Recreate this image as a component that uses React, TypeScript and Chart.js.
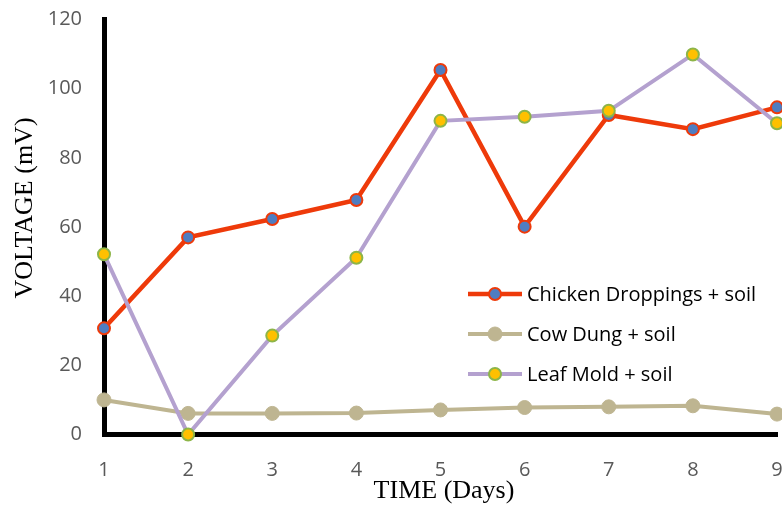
import { useEffect, useRef } from 'react';
import { Chart, registerables } from 'chart.js';

Chart.register(...registerables);

const days = ['1', '2', '3', '4', '5', '6', '7', '8', '9'];
const chickenDroppings = [30.7, 57.0, 62.3, 67.8, 105.4, 60.1, 92.4, 88.3, 94.6];
const cowDung = [10.0, 6.1, 6.1, 6.2, 7.1, 7.8, 8.0, 8.3, 5.9];
const leafMold = [52.1, 0, 28.6, 51.1, 90.7, 91.9, 93.6, 109.9, 90.0];
const seriesNames = ['Chicken Droppings + soil', 'Cow Dung + soil', 'Leaf Mold + soil'];
const yMin = 0;
const yMax = 120;
const yStep = 20;
const xTitle = 'TIME (Days)';
const yTitle = 'VOLTAGE (mV)';

const legendPlugin = {
  id: 'customLegend',
  afterDraw(chart: any) {
    const ctx = chart.ctx;
    // axis titles
    ctx.save();
    ctx.textAlign = 'center';
    ctx.textBaseline = 'middle';
    ctx.fillStyle = '#000000';
    ctx.font = '26px "Liberation Serif"';
    ctx.fillText(xTitle, 444, 491);
    ctx.translate(25, 208);
    ctx.rotate(-Math.PI / 2);
    ctx.fillText(yTitle, 0, 0);
    ctx.restore();

    // legend
    chart.data.datasets.forEach((ds: any, i: number) => {
      const y = 294 + 40 * i;
      ctx.save();
      ctx.strokeStyle = ds.borderColor;
      ctx.lineWidth = ds.borderWidth;
      ctx.beginPath();
      ctx.moveTo(468, y);
      ctx.lineTo(522, y);
      ctx.stroke();
      ctx.beginPath();
      ctx.arc(495, y, ds.pointRadius, 0, Math.PI * 2);
      ctx.fillStyle = ds.pointBackgroundColor;
      ctx.fill();
      ctx.lineWidth = ds.pointBorderWidth;
      ctx.strokeStyle = ds.pointBorderColor;
      ctx.stroke();
      ctx.fillStyle = '#000000';
      ctx.font = '20px "Open Sans"';
      ctx.textAlign = 'left';
      ctx.textBaseline = 'middle';
      ctx.fillText(ds.label, 527, y + 1);
      ctx.restore();
    });
  },
};

export default function App() {
  const ref = useRef<HTMLCanvasElement | null>(null);

  useEffect(() => {
    if (!ref.current) return;
    const chart = new Chart(ref.current, {
      type: 'line',
      data: {
        labels: days,
        datasets: [
          {
            label: seriesNames[0],
            data: chickenDroppings,
            borderColor: '#EE3A0A',
            borderWidth: 4.5,
            pointRadius: 6,
            pointBorderWidth: 2,
            pointBackgroundColor: '#4F7DC1',
            pointBorderColor: '#EE3A0A',
            order: 3,
            clip: false,
          } as any,
          {
            label: seriesNames[1],
            data: cowDung,
            borderColor: '#BEB591',
            borderWidth: 4,
            pointRadius: 7,
            pointBorderWidth: 1,
            pointBackgroundColor: '#BEB591',
            pointBorderColor: '#BEB591',
            order: 2,
            clip: false,
          } as any,
          {
            label: seriesNames[2],
            data: leafMold,
            borderColor: '#B4A1CF',
            borderWidth: 4,
            pointRadius: 6,
            pointBorderWidth: 2,
            pointBackgroundColor: '#FFC000',
            pointBorderColor: '#8DB548',
            order: 1,
            clip: false,
          } as any,
        ],
      },
      options: {
        animation: false,
        responsive: false,
        maintainAspectRatio: false,
        events: [],
        layout: { padding: { top: 19.5, right: 15, left: 0, bottom: 0 } },
        plugins: {
          legend: { display: false },
          tooltip: { enabled: false },
        },
        scales: {
          x: {
            type: 'category',
            offset: false,
            grid: { display: false, drawTicks: true, tickLength: 24 },
            border: { display: true, color: '#000000', width: 5 },
            ticks: {
              color: '#595959',
              font: { family: '"Open Sans"', size: 20 },
              padding: 0,
              maxRotation: 0,
              autoSkip: false,
            },
            afterFit: (s: any) => {
              s.height = 74.5;
              s.paddingLeft = 0;
              s.paddingRight = 0;
            },
          },
          y: {
            min: yMin,
            max: yMax,
            grid: { display: false, drawTicks: true, tickLength: 22 },
            border: { display: true, color: '#000000', width: 5 },
            ticks: {
              stepSize: yStep,
              color: '#595959',
              font: { family: '"Open Sans"', size: 20 },
              padding: 0,
            },
            afterFit: (s: any) => {
              s.width = 104;
              s.paddingTop = 0;
              s.paddingBottom = 0;
            },
          },
        },
      },
      plugins: [legendPlugin],
    });
    return () => chart.destroy();
  }, []);

  return (
    <div style={{ position: 'fixed', left: 0, top: 0, width: 782, height: 509, overflow: 'hidden', background: '#ffffff' }}>
      <canvas ref={ref} width={792} height={509} style={{ width: 792, height: 509, display: 'block' }} />
    </div>
  );
}
